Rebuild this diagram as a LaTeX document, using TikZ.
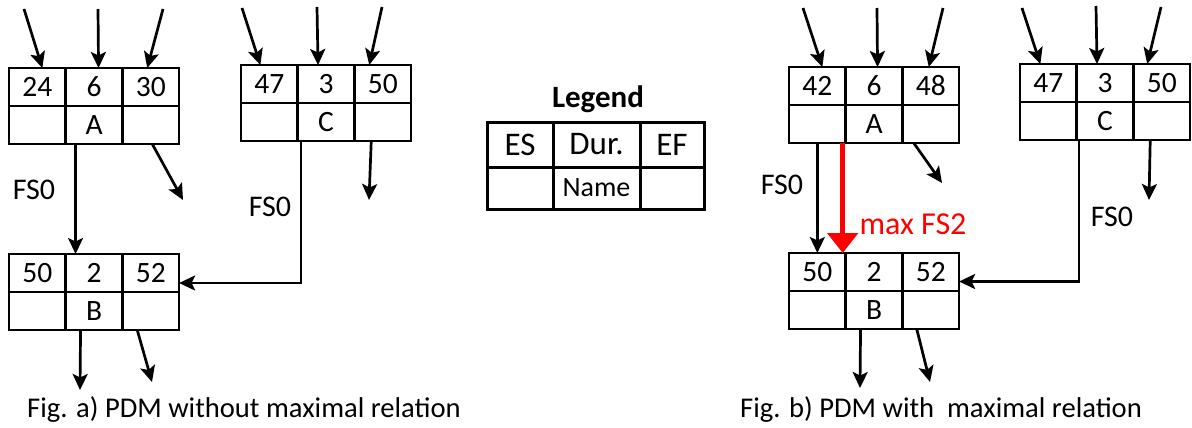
\documentclass[tikz,border=0pt]{standalone}
\usepackage{fontspec}
\setmainfont{Carlito}
\usetikzlibrary{arrows.meta,calc}

\tikzset{
  cell/.style={draw, line width=2.5pt, minimum width=56.7pt, minimum height=38pt,
    inner sep=0pt, outer sep=0pt, font=\fontsize{29.5}{32}\selectfont},
  lcell/.style={draw, line width=3pt, minimum height=45pt,
    inner sep=0pt, outer sep=0pt, font=\fontsize{33}{36}\selectfont},
  lbl/.style={font=\fontsize{30}{32}\selectfont, inner sep=0pt},
  figcaption/.style={font=\fontsize{28.6}{32}\selectfont, inner sep=0pt},
  arr/.style={line width=2.7pt, -{Stealth[length=16pt,width=15pt,inset=3.5pt]}},
  link/.style={line width=2.7pt, -{Stealth[length=16pt,width=15pt,inset=3.5pt]}},
  maxlink/.style={red, line width=5.5pt, -{Triangle[length=20pt,width=30pt]}},
}

% Activity box: name, left x, top y, ES, duration, EF, activity label
\newcommand{\pdmbox}[7]{%
  \node[cell, anchor=north west] (#1-es) at (#2,#3) {#4};
  \node[cell, anchor=west] (#1-dur) at (#1-es.east) {#5};
  \node[cell, anchor=west] (#1-ef) at (#1-dur.east) {#6};
  \node[cell, anchor=north] (#1-l) at (#1-es.south) {};
  \node[cell, anchor=north] (#1-n) at (#1-dur.south) {#7};
  \node[cell, anchor=north] (#1-r) at (#1-ef.south) {};
}

\begin{document}
\begin{tikzpicture}[x=1pt, y=-1pt]
\useasboundingbox (0,0) rectangle (1192,428);

% ---------- Fig. a ----------
\pdmbox{aA}{9}{68}{24}{6}{30}{A}
\pdmbox{aC}{241}{65}{47}{3}{50}{C}
\pdmbox{aB}{9}{254}{50}{2}{52}{B}

\coordinate (aA-i1) at (24,9);
\coordinate (aA-i2) at (98,9);
\coordinate (aA-i3) at (163,9);
\draw[arr] (aA-i1) -- ($(aA-es.north)+(5,0)$);
\draw[arr] (aA-i2) -- ($(aA-dur.north)+(4.5,0)$);
\draw[arr] (aA-i3) -- ($(aA-ef.north)+(-3.5,0)$);

\coordinate (aC-i1) at (242,8);
\coordinate (aC-i2) at (317,7);
\coordinate (aC-i3) at (382,7);
\draw[arr] (aC-i1) -- ($(aC-es.north)+(-9,0)$);
\draw[arr] (aC-i2) -- ($(aC-dur.north)+(-8,0)$);
\draw[arr] (aC-i3) -- ($(aC-ef.north)+(-13.5,0)$);

\coordinate (aA-o) at (183,200);
\coordinate (aC-o) at (369,200);
\draw[arr] ($(aA-r.south)+(1.5,0)$) -- (aA-o);
\draw[arr] ($(aC-r.south)+(-11.5,0)$) -- (aC-o);

\draw[link] ($(aA-n.south)+(-18.5,0)$) -- ($(aB-dur.north)+(-18.5,0)$);
\draw[link] ($(aC-n.south)+(-25,0)$) |- ($(aB-ef.east)+(0,10)$);
\node[lbl] (aFS1) at (34,190) {FS0};
\node[lbl] (aFS2) at (270,207) {FS0};

\coordinate (aB-o1) at (80,390);
\coordinate (aB-o2) at (152,382);
\draw[arr] ($(aB-n.south)+(-13.5,0)$) -- (aB-o1);
\draw[arr] ($(aB-r.south)+(-13.5,0)$) -- (aB-o2);

\node[figcaption] (capa) at (244,409) {Fig. a) PDM without maximal relation};

% ---------- Legend ----------
\node[font=\bfseries\fontsize{31}{34}\selectfont, inner sep=0pt] (legt) at (598,99) {Legend};
\node[lcell, minimum width=66pt, anchor=north west] (lg-es) at (487,122) {ES};
\node[lcell, minimum width=87pt, anchor=west] (lg-dur) at (lg-es.east) {Dur.};
\node[lcell, minimum width=64pt, anchor=west] (lg-ef) at (lg-dur.east) {EF};
\node[lcell, minimum width=66pt, minimum height=42pt, anchor=north] (lg-l) at (lg-es.south) {};
\node[lcell, minimum width=87pt, minimum height=42pt, anchor=north, font=\fontsize{28}{30}\selectfont] (lg-n) at (lg-dur.south) {Name};
\node[lcell, minimum width=64pt, minimum height=42pt, anchor=north] (lg-r) at (lg-ef.south) {};

% ---------- Fig. b ----------
\pdmbox{bA}{789}{67}{42}{6}{48}{A}
\pdmbox{bC}{1020}{64}{47}{3}{50}{C}
\pdmbox{bB}{789}{253}{50}{2}{52}{B}

\coordinate (bA-i1) at (803,8);
\coordinate (bA-i2) at (877,8);
\coordinate (bA-i3) at (943,8);
\draw[arr] (bA-i1) -- ($(bA-es.north)+(5,0)$);
\draw[arr] (bA-i2) -- ($(bA-dur.north)+(3.5,0)$);
\draw[arr] (bA-i3) -- ($(bA-ef.north)+(-2,0)$);

\coordinate (bC-i1) at (1022,8);
\coordinate (bC-i2) at (1096,6);
\coordinate (bC-i3) at (1161,7);
\draw[arr] (bC-i1) -- ($(bC-es.north)+(-8,0)$);
\draw[arr] (bC-i2) -- ($(bC-dur.north)+(-8,0)$);
\draw[arr] (bC-i3) -- ($(bC-ef.north)+(-14.5,0)$);

\coordinate (bA-o) at (942,183);
\coordinate (bC-o) at (1149,200);
\draw[arr] ($(bA-r.south)+(-17,0)$) -- (bA-o);
\draw[arr] ($(bC-r.south)+(-11.5,0)$) -- (bC-o);

\draw[link] (bA-l.south) -- (bB-es.north);
\draw[maxlink] ($(bA-n.south west)+(-3,0)$) -- ($(bB-dur.north west)+(-3,0)$);
\draw[link] ($(bC-n.south)+(-26,0)$) |- ($(bB-ef.east)+(0,9.5)$);
\node[lbl] (bFS1) at (782,185) {FS0};
\node[lbl, text=red, font=\fontsize{32}{34}\selectfont] (bmax) at (913,224) {max FS2};
\node[lbl] (bFS2) at (1112,217) {FS0};

\coordinate (bB-o1) at (860,388);
\coordinate (bB-o2) at (930,382);
\draw[arr] ($(bB-n.south)+(-13.5,0)$) -- (bB-o1);
\draw[arr] ($(bB-r.south)+(-14,0)$) -- (bB-o2);

\node[figcaption] (capb) at (941,409) {Fig. b) PDM with\ \ maximal relation};
\end{tikzpicture}
\end{document}
